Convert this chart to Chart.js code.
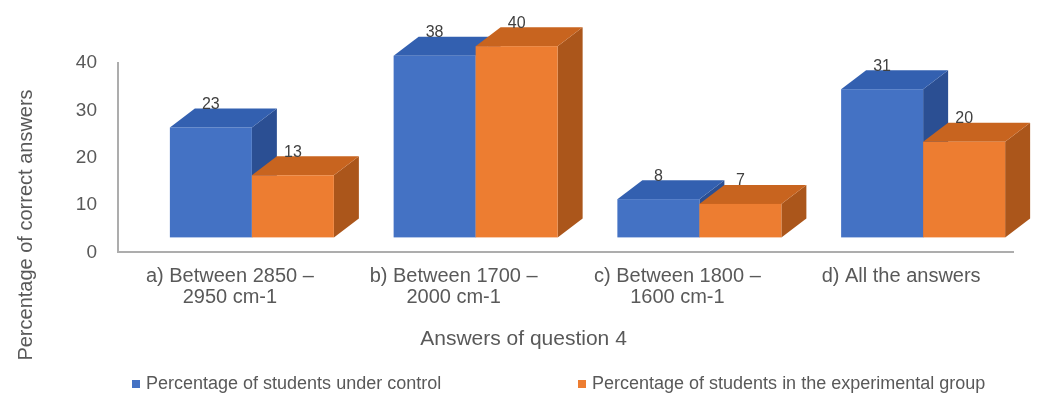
<!DOCTYPE html>
<html>
<head>
<meta charset="utf-8">
<script src="https://cdn.jsdelivr.net/npm/chart.js@4.4.1/dist/chart.umd.min.js"></script>
<style>
  html, body { margin: 0; padding: 0; background: #ffffff; }
  #wrap { width: 1047px; height: 405px; }
</style>
</head>
<body>
<div id="wrap"><canvas id="chart" width="1047" height="405"></canvas></div>
<script>
// Answers of question 4 — share of correct answers per group
const categories = [
  ['a) Between 2850 –', '2950 cm-1'],
  ['b) Between 1700 –', '2000 cm-1'],
  ['c) Between 1800 –', '1600 cm-1'],
  ['d) All the answers']
];
const controlValues = [23, 38, 8, 31];
const experimentalValues = [13, 40, 7, 20];
const seriesNames = [
  'Percentage of students under control',
  'Percentage of students in the experimental group'
];
const yTickValues = [0, 10, 20, 30, 40];

const FONT = "'Liberation Sans', Arial, sans-serif";
const TEXT = '#595959';
const AXIS_LINE = '#ADADAD';

// face colours for the pseudo-3D boxes: front, top, side
const palettes = [
  { front: '#4472C4', top: '#3360B0', side: '#2B4F93' },
  { front: '#ED7D31', top: '#C8641F', side: '#AB561B' }
];

// box depth (perspective offset) and the shift of the front faces off the floor
const DEPTH_X = 25, DEPTH_Y = -19, FRONT_SHIFT = 22;

function polygon(ctx, pts, color) {
  ctx.beginPath();
  ctx.moveTo(pts[0][0], pts[0][1]);
  for (let k = 1; k < pts.length; k++) ctx.lineTo(pts[k][0], pts[k][1]);
  ctx.closePath();
  ctx.fillStyle = color;
  ctx.fill();
}

const boxBars = {
  id: 'boxBars',
  beforeDatasetDraw() { return false; },
  afterDatasetsDraw(chart) {
    const ctx = chart.ctx;
    const metas = chart.getSortedVisibleDatasetMetas();
    const labels = [];
    ctx.save();
    for (let i = 0; i < chart.data.labels.length; i++) {
      metas.forEach((meta, d) => {
        const el = meta.data[i];
        const p = el.getProps(['x', 'y', 'base', 'width'], true);
        const l = p.x - p.width / 2 + FRONT_SHIFT;
        const r = p.x + p.width / 2 + FRONT_SHIFT;
        const top = p.y, base = p.base;
        const pal = palettes[d];
        polygon(ctx, [[r, top], [r + DEPTH_X, top + DEPTH_Y], [r + DEPTH_X, base + DEPTH_Y], [r, base]], pal.side);
        polygon(ctx, [[l, top], [l + DEPTH_X, top + DEPTH_Y], [r + DEPTH_X, top + DEPTH_Y], [r, top]], pal.top);
        ctx.fillStyle = pal.front;
        ctx.fillRect(l, top, r - l, base - top);
        labels.push({ x: (l + r) / 2, y: top + DEPTH_Y - 4, v: chart.data.datasets[d].data[i] });
      });
    }
    ctx.fillStyle = '#404040';
    ctx.font = '16px ' + FONT;
    ctx.textAlign = 'center';
    ctx.textBaseline = 'middle';
    labels.forEach(t => ctx.fillText(String(t.v), t.x, t.y));
    ctx.restore();
  }
};

// rotated axis title and the legend row underneath
const annotations = {
  id: 'annotations',
  afterDraw(chart) {
    const ctx = chart.ctx;
    ctx.save();
    ctx.fillStyle = TEXT;
    ctx.font = '20px ' + FONT;
    ctx.textAlign = 'center';
    ctx.textBaseline = 'middle';
    ctx.translate(26, 225);
    ctx.rotate(-Math.PI / 2);
    ctx.fillText('Percentage of correct answers', 0, 0);
    ctx.restore();

    ctx.save();
    ctx.font = '18px ' + FONT;
    ctx.textBaseline = 'middle';
    ctx.textAlign = 'left';
    const rowY = 384;
    const starts = [132, 578];
    chart.data.datasets.forEach((ds, d) => {
      ctx.fillStyle = palettes[d].front;
      ctx.fillRect(starts[d], rowY - 4, 8, 8);
      ctx.fillStyle = TEXT;
      ctx.fillText(ds.label, starts[d] + 14, rowY);
    });
    ctx.restore();
  }
};

new Chart(document.getElementById('chart'), {
  type: 'bar',
  data: {
    labels: categories,
    datasets: [
      { label: seriesNames[0], data: controlValues, backgroundColor: palettes[0].front, yAxisID: 'yb' },
      { label: seriesNames[1], data: experimentalValues, backgroundColor: palettes[1].front, yAxisID: 'yb' }
    ]
  },
  options: {
    responsive: false,
    devicePixelRatio: 1,
    animation: false,
    events: [],
    datasets: { bar: { categoryPercentage: 0.733, barPercentage: 1.0 } },
    layout: { padding: { left: 0, right: 0, top: 63, bottom: 53 } },
    scales: {
      x: {
        type: 'category',
        grid: { display: false, drawTicks: false },
        border: { display: true, color: AXIS_LINE, width: 2 },
        ticks: {
          color: TEXT,
          font: { family: FONT, size: 20, lineHeight: 1.05 },
          padding: 14,
          maxRotation: 0,
          autoSkip: false
        },
        afterFit(s) { s.height = 74.4; }
      },
      y: {
        type: 'linear',
        position: 'left',
        min: 0,
        max: 40,
        grid: { display: false, drawTicks: false },
        border: { display: true, color: AXIS_LINE, width: 2 },
        afterBuildTicks(s) { s.ticks = yTickValues.map(v => ({ value: v })); },
        ticks: { color: TEXT, font: { family: FONT, size: 19 }, padding: 21 },
        afterFit(s) { s.width = 118; }
      },
      yb: {
        type: 'linear',
        position: 'right',
        min: -3.14,
        max: 36.48,
        grid: { display: false, drawTicks: false },
        border: { display: false },
        ticks: { display: false },
        afterFit(s) { s.width = 34; }
      }
    },
    plugins: {
      legend: { display: false },
      tooltip: { enabled: false },
      title: {
        display: true,
        position: 'bottom',
        text: 'Answers of question 4',
        color: TEXT,
        font: { family: FONT, size: 21, weight: 'normal', lineHeight: 1.2 },
        padding: 0
      }
    }
  },
  plugins: [boxBars, annotations]
});
</script>
</body>
</html>
